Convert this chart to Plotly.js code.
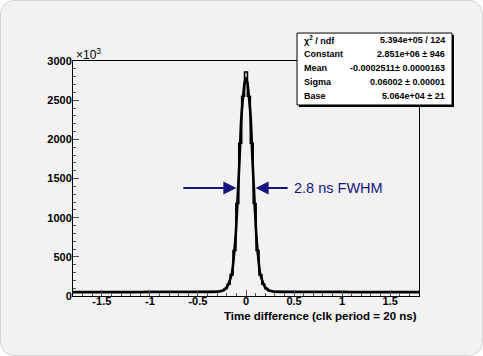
<!DOCTYPE html>
<html>
<head>
<meta charset="utf-8">
<script src="https://cdn.plot.ly/plotly-3.0.1.min.js"></script>
<style>
html,body{margin:0;padding:0;background:#ffffff;}
#card{position:absolute;left:0;top:0;width:483px;height:356px;box-sizing:border-box;background:#f2f2f2;border:1px solid #d4d4d4;border-radius:14px;}
#plot{position:absolute;left:0;top:0;width:483px;height:356px;}
</style>
</head>
<body>
<div id="card"></div>
<div id="plot"></div>
<script>
// Histogram bins (time difference, counts x10^3)
const binCenters = [-1.8, -0.3, -0.27, -0.24, -0.21, -0.18, -0.15, -0.12, -0.09, -0.06, -0.03, 0, 0.03, 0.06, 0.09, 0.12, 0.15, 0.18, 0.21, 0.24, 0.27, 0.3, 1.8];
const binCounts  = [50, 56, 60, 70, 95, 150, 270, 580, 1180, 1950, 2550, 2860, 2550, 1950, 1180, 580, 270, 150, 95, 70, 60, 56, 50];

// Fit curve
const fitX = [-1.8, -1.2, -0.6, -0.35, -0.28, -0.24, -0.2, -0.18, -0.16, -0.145, -0.125, -0.105, -0.085, -0.065, -0.05, -0.03, -0.015, 0, 0.015, 0.03, 0.05, 0.065, 0.085, 0.105, 0.125, 0.145, 0.16, 0.18, 0.2, 0.24, 0.28, 0.35, 0.6, 1.2, 1.8];
const fitY = [49, 50, 51, 53, 58, 70, 110, 160, 230, 300, 520, 820, 1300, 1800, 2250, 2550, 2720, 2780, 2720, 2550, 2250, 1800, 1300, 820, 520, 300, 230, 160, 110, 70, 58, 53, 51, 50, 49];

const xTickVals = [-1.5, -1, -0.5, 0, 0.5, 1, 1.5];
const xTickText = ["-1.5", "-1", "-0.5", "0", "0.5", "1", "1.5"];
const yTickVals = [0, 500, 1000, 1500, 2000, 2500, 3000];
const yTickText = ["0", "500", "1000", "1500", "2000", "2500", "3000"];

const statLabels = ["\u03c7<sup>2</sup> / ndf", "Constant", "Mean", "Sigma", "Base"];
const statValues = ["5.394e+05 / 124", "2.851e+06 \u00b1 946", "-0.0002511\u00b1 0.0000163", "0.06002 \u00b1 0.00001", "5.064e+04 \u00b1 21"];

const FONT = "Liberation Sans, Arial, Helvetica, sans-serif";
const NAVY = "#15157f";

const traces = [
  {x: binCenters, y: binCounts, type: "scatter", mode: "lines", line: {shape: "hvh", color: "#000", width: 1.6}, hoverinfo: "skip"},
  {x: fitX, y: fitY, type: "scatter", mode: "lines", line: {shape: "spline", smoothing: 0.6, color: "#000", width: 2.6}, hoverinfo: "skip"}
];

const rowY = [1.0894, 1.0298, 0.9702, 0.9106, 0.849];
const annotations = [];
statLabels.forEach((t, i) => {
  annotations.push({xref: "paper", yref: "paper", x: 0.6618, y: rowY[i], xanchor: "left", yanchor: "middle", text: t, showarrow: false, font: {family: FONT, size: 9, color: "#000", weight: "bold"}});
  annotations.push({xref: "paper", yref: "paper", x: 1.0809, y: rowY[i], xanchor: "right", yanchor: "middle", text: statValues[i], showarrow: false, font: {family: FONT, size: 9, color: "#000", weight: "bold"}});
});
annotations.push({xref: "paper", yref: "paper", x: 0.002, y: 1.03, xanchor: "left", yanchor: "middle", text: "\u00d710<sup>3</sup>", showarrow: false, font: {family: FONT, size: 12, color: "#000"}});
annotations.push({xref: "paper", yref: "paper", x: 1.0, y: -0.087, xanchor: "right", yanchor: "middle", text: "Time difference (clk period = 20 ns)", showarrow: false, font: {family: FONT, size: 11.5, color: "#000", weight: "bold"}});
annotations.push({xref: "x", yref: "y", x: -0.1, y: 1380, ax: -56, ay: 0, text: " ", showarrow: true, arrowhead: 2, arrowsize: 1.3, arrowwidth: 2, arrowcolor: NAVY, standoff: 0});
annotations.push({xref: "x", yref: "y", x: 0.1, y: 1380, ax: 35, ay: 0, text: " ", showarrow: true, arrowhead: 2, arrowsize: 1.3, arrowwidth: 2, arrowcolor: NAVY, standoff: 0});
annotations.push({xref: "x", yref: "y", x: 0.475, y: 1380, xanchor: "left", yanchor: "middle", text: "2.8 ns FWHM", showarrow: false, font: {family: FONT, size: 14.5, color: NAVY}});

const shapes = [
  {type: "rect", xref: "paper", yref: "paper", x0: 0.6531, x1: 1.1011, y0: 0.8043, y1: 1.1105, fillcolor: "#000", line: {width: 0}},
  {type: "rect", xref: "paper", yref: "paper", x0: 0.6474, x1: 1.0954, y0: 0.8128, y1: 1.119, fillcolor: "#ffffff", line: {color: "#000", width: 1}}
];

const layout = {
  width: 483, height: 356,
  margin: {l: 73, r: 64, t: 61, b: 60},
  paper_bgcolor: "rgba(0,0,0,0)",
  plot_bgcolor: "#f2f2f2",
  showlegend: false,
  xaxis: {
    range: [-1.8, 1.8], tickvals: xTickVals, ticktext: xTickText,
    ticks: "inside", ticklen: 6, tickwidth: 1, tickcolor: "#555", ticklabelstandoff: -5,
    minor: {dtick: 0.1, tick0: 0, ticks: "inside", ticklen: 3, tickcolor: "#555", showgrid: false},
    showgrid: false, zeroline: false, showline: true, mirror: true, linecolor: "#000", linewidth: 1,
    tickfont: {family: FONT, size: 11, color: "#000", weight: "bold"}
  },
  yaxis: {
    range: [0, 3000], tickvals: yTickVals, ticktext: yTickText,
    ticks: "inside", ticklen: 6, tickwidth: 1, tickcolor: "#555", ticklabelstandoff: -2,
    minor: {dtick: 100, tick0: 0, ticks: "inside", ticklen: 3, tickcolor: "#555", showgrid: false},
    showgrid: false, zeroline: false, showline: true, mirror: true, linecolor: "#000", linewidth: 1,
    tickfont: {family: FONT, size: 11, color: "#000", weight: "bold"}
  },
  annotations: annotations,
  shapes: shapes
};

Plotly.newPlot("plot", traces, layout, {staticPlot: true, displayModeBar: false});
</script>
</body>
</html>
